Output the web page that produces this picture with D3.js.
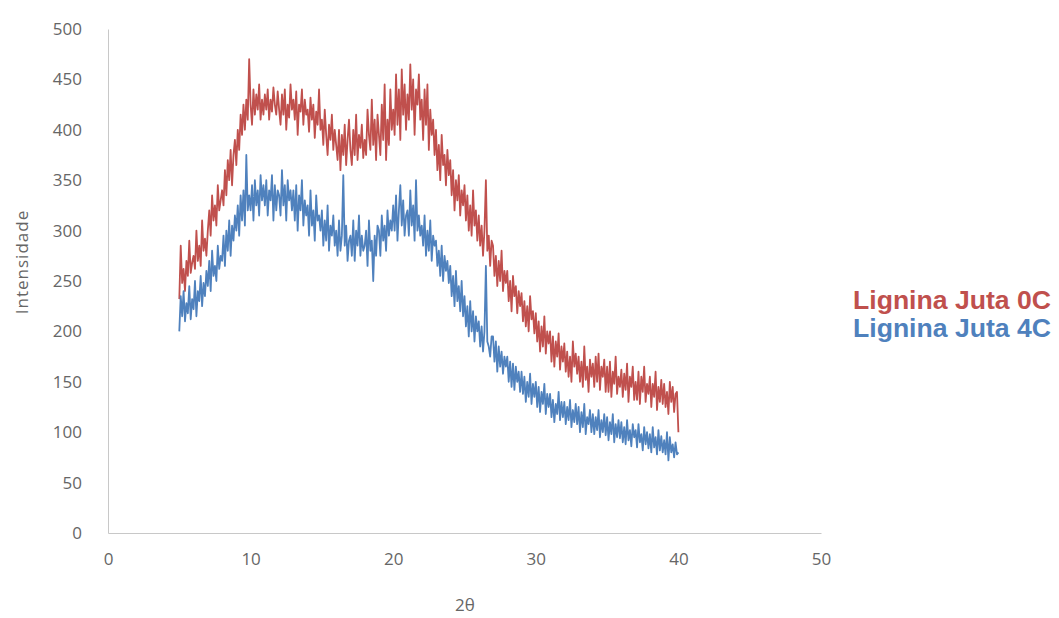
<!DOCTYPE html>
<html>
<head>
<meta charset="utf-8">
<script src="https://cdn.jsdelivr.net/npm/d3@7"></script>
<style>
  body { margin: 0; background: #fff; }
  svg { display: block; }
</style>
</head>
<body>
<script>
// data: 2θ from 5 to 40, step 0.1 (one row = one degree)
var thetaStart = 5;
var thetaStep = 0.1;

var juta0C = [
  232, 285, 248, 262, 240, 270, 255, 290, 258, 268,
  275, 262, 300, 270, 285, 265, 310, 280, 292, 275,
  300, 320, 295, 335, 310, 325, 305, 345, 320, 330,
  340, 325, 360, 335, 370, 350, 380, 345, 375, 390,
  365, 400, 380, 415, 395, 425, 400, 430, 410, 470,
  425, 405, 440, 415, 435, 420, 445, 410, 430, 415,
  435, 420, 440, 410, 430, 418, 442, 425, 415, 438,
  420, 405, 435, 415, 440, 400, 425, 412, 445, 420,
  430, 410, 438, 395, 425, 418, 440, 405, 430, 415,
  420, 398, 432, 410, 425, 392, 418, 405, 440, 400,
  410, 385, 420, 395, 375, 405, 390, 415, 380, 400,
  385, 370, 400, 360, 395, 375, 405, 365, 390, 410,
  380, 365, 400, 375, 415, 370, 395, 382, 405, 372,
  390, 375, 420, 395, 380, 430, 385, 410, 370, 415,
  395, 375, 425, 390, 445, 370, 410, 385, 440, 400,
  420, 395, 455, 405, 440, 390, 460, 415, 445, 400,
  435, 410, 465, 420, 450, 395, 440, 425, 455, 410,
  430, 390, 440, 405, 445, 380, 420, 395, 410, 375,
  400, 360, 385, 350, 395, 365, 375, 345, 380, 355,
  370, 335, 360, 320, 350, 330, 355, 315, 340, 325,
  345, 310, 335, 300, 325, 295, 340, 305, 320, 290,
  315, 285, 305, 275, 300, 350, 280, 295, 265, 290,
  285, 255, 275, 245, 270, 250, 280, 240, 260, 248,
  260, 230, 250, 220, 255, 235, 245, 218, 240, 225,
  238, 210, 230, 205, 225, 200, 235, 212, 220, 198,
  218, 190, 210, 180, 205, 185, 215, 178, 200, 188,
  200, 170, 195, 165, 190, 175, 198, 162, 185, 170,
  188, 160, 180, 155, 175, 150, 190, 165, 178, 158,
  175, 150, 170, 145, 185, 152, 165, 140, 172, 155,
  168, 145, 175, 150, 178, 142, 165, 155, 172, 140,
  165, 140, 170, 135, 160, 148, 175, 138, 155, 145,
  162, 135, 158, 142, 168, 130, 155, 145, 165, 132,
  150, 132, 160, 128, 155, 140, 165, 130, 148, 138,
  155, 125, 148, 135, 160, 122, 145, 130, 152, 128,
  148, 125, 140, 118, 150, 130, 145, 120, 138, 140,
  100
];

var juta4C = [
  200, 235, 215, 240, 210, 228, 218, 245, 212, 232,
  222, 250, 215, 240, 230, 255, 225, 248, 235, 260,
  245, 270, 240, 280, 255, 265, 250, 285, 262, 275,
  270, 295, 265, 300, 280, 310, 275, 305, 290, 315,
  300, 325, 295, 335, 310, 340, 305, 375, 320, 335,
  320, 345, 310, 350, 325, 340, 315, 355, 330, 345,
  325, 350, 315, 340, 330, 355, 310, 345, 320, 340,
  335, 315, 360, 325, 345, 310, 350, 330, 340, 320,
  340, 310, 345, 300, 335, 320, 350, 305, 330, 315,
  325, 295, 340, 305, 320, 290, 335, 310, 315, 300,
  320, 285, 310, 290, 325, 280, 305, 295, 315, 285,
  300, 275, 310, 280, 295, 355, 285, 305, 270, 290,
  295, 275, 310, 270, 300, 285, 315, 275, 295, 280,
  285, 300, 265, 310, 280, 290, 250, 295, 275, 305,
  300, 275, 315, 290, 305, 280, 320, 295, 310, 300,
  325, 300, 335, 290, 320, 345, 305, 330, 295, 315,
  320, 295, 340, 305, 325, 290, 350, 300, 315, 295,
  305, 285, 315, 275, 300, 280, 310, 270, 295, 285,
  290, 265, 280, 255, 285, 250, 275, 260, 270, 248,
  265, 235, 255, 225, 260, 230, 245, 220, 250, 215,
  235, 205, 225, 195, 230, 200, 220, 190, 215, 200,
  210, 185, 205, 180, 200, 265, 190, 185, 175, 195,
  195, 170, 190, 160, 185, 165, 180, 158, 175, 165,
  175, 150, 170, 145, 168, 142, 165, 150, 160, 140,
  160, 138, 155, 130, 150, 135, 158, 128, 148, 135,
  150, 125, 145, 120, 140, 128, 148, 118, 138, 125,
  138, 115, 132, 110, 128, 118, 140, 112, 130, 115,
  130, 108, 125, 112, 132, 105, 122, 110, 128, 108,
  125, 100, 120, 105, 128, 98, 115, 108, 122, 100,
  118, 98, 115, 102, 122, 95, 112, 100, 118, 97,
  115, 92, 110, 98, 118, 90, 108, 95, 112, 94,
  110, 90, 105, 88, 112, 92, 102, 86, 108, 95,
  102, 85, 108, 90, 98, 82, 105, 88, 100, 84,
  98, 80, 105, 85, 95, 78, 102, 82, 96, 80,
  92, 78, 100, 72, 95, 80, 88, 75, 90, 78,
  80
];

var seriesNames = ['Lignina Juta 0C', 'Lignina Juta 4C'];
var seriesColors = ['#c0504d', '#4f81bd'];
var xTicks = [0, 10, 20, 30, 40, 50];
var yTicks = [0, 50, 100, 150, 200, 250, 300, 350, 400, 450, 500];

// ----------------------------------------------------------------------------
var svg = d3.select('body').append('svg')
  .attr('width', 1059)
  .attr('height', 618);

var x = d3.scaleLinear().domain([0, 50]).range([108, 821]);
var y = d3.scaleLinear().domain([0, 500]).range([533, 29]);

var fontTicks = '"Open Sans", "Noto Sans", sans-serif';

// axes (no tick marks, light grey lines)
var xAxis = svg.append('g')
  .attr('transform', 'translate(0,' + y(0) + ')')
  .call(d3.axisBottom(x).tickValues(xTicks).tickSize(0).tickPadding(20));

var yAxis = svg.append('g')
  .attr('transform', 'translate(' + x(0) + ',0)')
  .call(d3.axisLeft(y).tickValues(yTicks).tickSize(0).tickPadding(26));

[xAxis, yAxis].forEach(function (g) {
  g.select('.domain').attr('stroke', '#c8c8c8').attr('stroke-width', 1);
  g.selectAll('text')
    .attr('fill', '#666')
    .style('font-family', fontTicks)
    .style('font-size', '17px');
});

// axis titles
svg.append('text')
  .attr('x', 465)
  .attr('y', 611)
  .attr('text-anchor', 'middle')
  .attr('fill', '#666')
  .style('font-family', fontTicks)
  .style('font-size', '17px')
  .text('2θ');

svg.append('text')
  .attr('transform', 'translate(28,262) rotate(-90)')
  .attr('text-anchor', 'middle')
  .attr('fill', '#666')
  .style('font-family', fontTicks)
  .style('font-size', '17px')
  .style('letter-spacing', '1px')
  .text('Intensidade');

// lines
var line = d3.line()
  .x(function (d, i) { return x(thetaStart + i * thetaStep); })
  .y(function (d) { return y(d); });

svg.selectAll('path.serie')
  .data([juta0C, juta4C])
  .enter()
  .append('path')
  .attr('class', 'serie')
  .attr('fill', 'none')
  .attr('stroke', function (d, i) { return seriesColors[i]; })
  .attr('stroke-width', 1.8)
  .attr('stroke-linejoin', 'round')
  .attr('d', line);

// legend
svg.selectAll('text.legend')
  .data(seriesNames)
  .enter()
  .append('text')
  .attr('class', 'legend')
  .attr('x', 853)
  .attr('y', function (d, i) { return 309 + i * 28; })
  .attr('fill', function (d, i) { return seriesColors[i]; })
  .attr('textLength', 198)
  .attr('lengthAdjust', 'spacingAndGlyphs')
  .style('font-family', '"Liberation Sans", Arial, sans-serif')
  .style('font-weight', 'bold')
  .style('font-size', '25px')
  .text(function (d) { return d; });
</script>
</body>
</html>
